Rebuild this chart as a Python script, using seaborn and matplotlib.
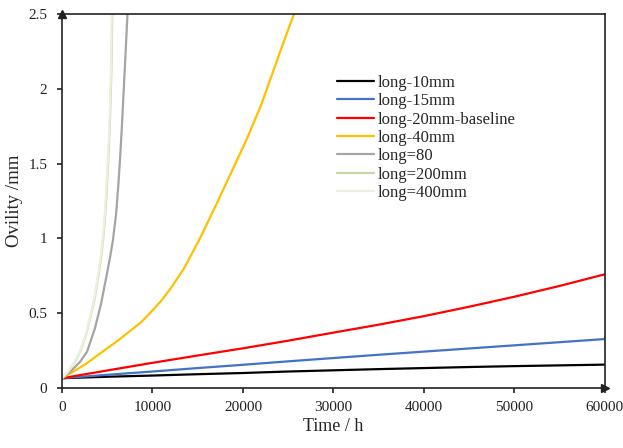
import pandas as pd
import seaborn as sns
import matplotlib.pyplot as plt

# values
t_10 = [0, 5000, 10000, 15000, 20000, 25000, 30000, 35000, 40000, 45000, 50000, 55000, 60000]
v_10 = [0.065, 0.075, 0.083, 0.092, 0.10, 0.11, 0.118, 0.126, 0.133, 0.14, 0.146, 0.151, 0.156]
t_15 = [0, 5000, 10000, 15000, 20000, 25000, 30000, 35000, 40000, 45000, 50000, 55000, 60000]
v_15 = [0.065, 0.088, 0.11, 0.133, 0.155, 0.178, 0.20, 0.222, 0.243, 0.264, 0.285, 0.306, 0.327]
t_20 = [0, 5000, 10000, 15000, 20000, 25000, 30000, 35000, 40000, 45000, 50000, 55000, 60000]
v_20 = [0.065, 0.117, 0.168, 0.217, 0.265, 0.316, 0.37, 0.423, 0.48, 0.543, 0.61, 0.682, 0.76]
t_40 = [0, 1250, 2500, 3750, 5000, 6250, 7500, 8750, 9724, 11000, 12000, 13500,
        15250, 17000, 18700, 20400, 22000, 23536, 24600, 25640, 25900]
v_40 = [0.065, 0.11, 0.155, 0.21, 0.265, 0.32, 0.38, 0.44, 0.50, 0.585, 0.665, 0.80,
        1.00, 1.22, 1.44, 1.66, 1.89, 2.15, 2.33, 2.5, 2.55]
t_80 = [0, 884, 1989, 2762, 3646, 4309, 4862, 5304, 5635, 5967, 6188, 6409,
        6630, 6851, 7072, 7238, 7300]
v_80 = [0.067, 0.107, 0.174, 0.241, 0.40, 0.56, 0.73, 0.87, 0.99, 1.156, 1.324, 1.524,
        1.758, 2.025, 2.293, 2.5, 2.57]
t_200 = [0, 663, 1437, 1989, 2652, 3205, 3647, 4089, 4420, 4696, 4917, 5116,
         5304, 5448, 5558, 5600]
v_200 = [0.067, 0.107, 0.174, 0.241, 0.354, 0.488, 0.608, 0.775, 0.922, 1.09, 1.29, 1.524,
         1.791, 2.092, 2.5, 2.57]
t_400 = [0, 640, 1400, 1950, 2610, 3160, 3600, 4040, 4370, 4646, 4867, 5066,
         5254, 5398, 5508, 5550]
v_400 = [0.067, 0.107, 0.174, 0.241, 0.354, 0.488, 0.608, 0.775, 0.922, 1.09, 1.29, 1.524,
         1.791, 2.092, 2.5, 2.57]

labels = ['long-10mm', 'long-15mm', 'long-20mm-baseline', 'long-40mm',
          'long=80', 'long=200mm', 'long=400mm']
colors = ['#000000', '#4472C4', '#FF0000', '#FFC000', '#A5A5A5', '#C4D9A6', '#EBF1DE']

series = [(t_10, v_10), (t_15, v_15), (t_20, v_20), (t_40, v_40),
          (t_80, v_80), (t_200, v_200), (t_400, v_400)]
frames = []
for lab, (t, v) in zip(labels, series):
    frames.append(pd.DataFrame({'time': t, 'ovility': v, 'case': lab}))
data = pd.concat(frames, ignore_index=True)

sns.set_theme(style="white")
plt.rcParams['font.family'] = ['Liberation Serif', 'DejaVu Serif']

fig = plt.figure(figsize=(6.23, 4.48), dpi=100)
ax = fig.add_axes([0.0995, 0.134, 0.8715, 0.835])

sns.lineplot(data=data, x='time', y='ovility', hue='case', hue_order=labels,
             palette=dict(zip(labels, colors)), linewidth=1.6, ax=ax,
             estimator=None, sort=False)

ax.set_xlim(0, 60000)
ax.set_ylim(0, 2.5)
ax.set_xticks(range(0, 60001, 10000))
ax.set_xticklabels([str(x) for x in range(0, 60001, 10000)], fontsize=11)
ax.set_yticks([0, 0.5, 1, 1.5, 2, 2.5])
ax.set_yticklabels(['0', '0.5', '1', '1.5', '2', '2.5'], fontsize=11)
ax.set_xlabel('Time / h', fontsize=13, labelpad=3)
ax.set_ylabel('Ovility /mm', fontsize=13.5, labelpad=4)

for s in ax.spines.values():
    s.set_color('#222222')
    s.set_linewidth(1.2)
ax.tick_params(axis='both', direction='out', length=3.6, width=1.2, color='#222222',
               bottom=True, left=True, labelcolor='#222222')
ax.tick_params(axis='y', pad=7)
ax.tick_params(axis='x', pad=6)

# arrow heads on the axes
ax.plot(0, 1, marker='^', color='#222222', markersize=6, transform=ax.transAxes, clip_on=False)
ax.plot(1, 0, marker='>', color='#222222', markersize=6, transform=ax.transAxes, clip_on=False)

ax.legend(loc='upper left', bbox_to_anchor=(0.4917, 0.859), frameon=False, fontsize=12,
          handlelength=2.2, handletextpad=0.25, labelspacing=0.14, borderpad=0)

plt.savefig('out.png', dpi=100)
